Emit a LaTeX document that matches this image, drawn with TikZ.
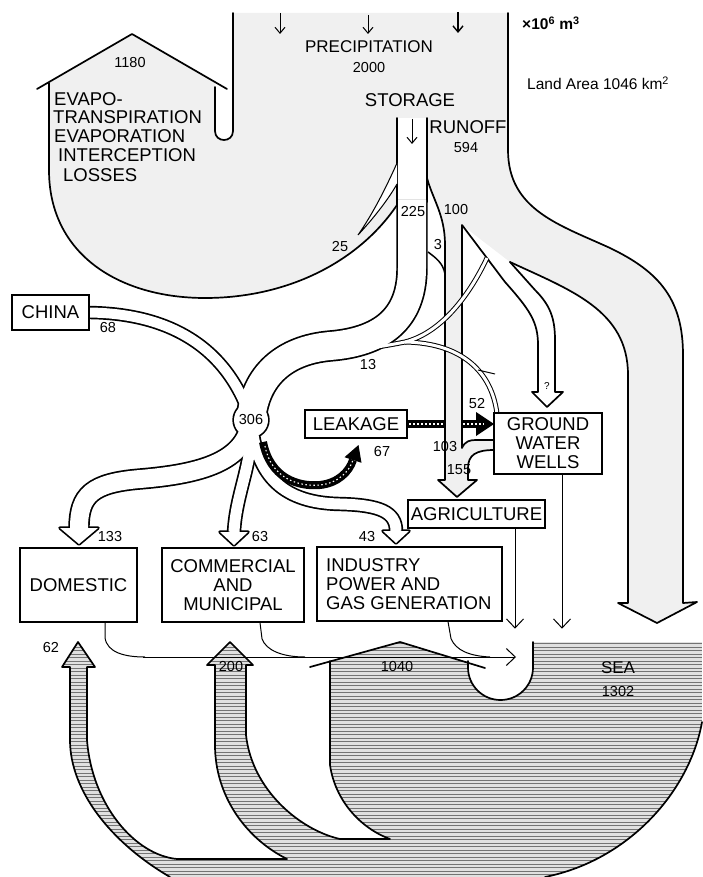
\documentclass[tikz,border=0pt]{standalone}
\usepackage{fontspec}
\setmainfont{Liberation Sans}
\usetikzlibrary{arrows.meta}
\newcommand\seaClip{\clip (330,661) -- (400,642) -- (468,662) -- (468,667.5) .. controls (468,685.5) and (482.5,700) .. (500.5,700) .. controls (518.5,700) and (533,685.5) .. (533,667.5) -- (533,642) -- (702,642) -- (702,722) .. controls (690,790) and (630,860) .. (545,877) -- (170,877) .. controls (110,842) and (70,790) .. (70,740) -- (70,667) -- (62,667) -- (78,642) -- (95,667) -- (87,667) -- (87,740) .. controls (92,805) and (135,855) .. (177,859) -- (287,859) .. controls (245,838) and (215,795) .. (215,745) -- (215,665) -- (207,665) -- (230,642) -- (253,665) -- (246,665) -- (246,735) .. controls (252,790) and (300,830) .. (340,839) -- (390,839) .. controls (360,828) and (335,800) .. (330,765) -- cycle;}
\newcommand\bChina[1]{\draw[#1] (84,312.5) .. controls (170,312) and (228,348) .. (251,420);}
\newcommand\bStor[1]{\draw[#1] (412,200) -- (412,268) .. controls (412,320) and (380,342) .. (330,346) .. controls (285,350) and (255,375) .. (251,420);}
\newcommand\bDom[1]{\draw[#1] (251,420) .. controls (246,462) and (200,474) .. (140,479) .. controls (92,483) and (79,495) .. (79,528);}
\newcommand\bCom[1]{\draw[#1] (251,420) .. controls (254,462) and (236,492) .. (234,532);}
\newcommand\bInd[1]{\draw[#1] (251,420) .. controls (256,478) and (285,503) .. (340,504) .. controls (380,505) and (396,512) .. (396,531);}
\newcommand\bX[1]{\draw[#1] (487,258) .. controls (468,298) and (440,333) .. (405,342) .. controls (385,346) and (365,349) .. (345,352);}
\newcommand\bThirteen[1]{\draw[#1] (497,414) .. controls (492,372) and (462,343) .. (405,342);}
\newcommand\bHeads[1]{\path[#1] (60,528) -- (79,544) -- (98,528) -- cycle; \path[#1] (220,532) -- (234,545) -- (248,532) -- cycle; \path[#1] (383,531) -- (396,543) -- (409,531) -- cycle;}
\begin{document}
\begin{tikzpicture}[x=1pt,y=-1pt,
  wall/.style={line width=1.7pt, line join=round, line cap=round},
  fine/.style={line width=1pt},
  boxn/.style={draw, line width=1.3pt, fill=white, inner sep=0pt, align=center, font=\fontsize{18.5}{19}\selectfont},
  lab/.style={inner sep=0pt, font=\fontsize{18.5}{19}\selectfont},
  num/.style={inner sep=0pt, font=\fontsize{14.5}{16}\selectfont},
  vtip/.style={-{Straight Barb[length=9pt,width=17pt]}},
  smalltip/.style={-{Straight Barb[length=6pt,width=10pt]}},
  darkband/.style={line width=8pt, black},
  speck/.style={white, line width=1.1pt, dash pattern=on 1.5pt off 2.5pt},
]
\useasboundingbox (0,0) rectangle (702,877);

% land / runoff region (stippled)
\fill[black!6] (233,13) -- (233,131) .. controls (233,143) and (215,143) .. (215,131) -- (215,82) -- (132,34) -- (49,82) -- (49,170) .. controls (49,255) and (120,298) .. (205,298) .. controls (290,298) and (360,260) .. (397,205) -- (397,118) -- (427,118) -- (427,178) .. controls (433,200) and (445,215) .. (445,245) -- (445,480) -- (438,480) -- (457,497) -- (477,480) -- (468,480) -- (468,468) .. controls (468,455) and (476,450) .. (494,450) -- (494,440) -- (476,440) .. controls (470,440) and (465,441) .. (462,448) -- (462,225) -- (510,262) .. controls (570,290) and (628,310) .. (628,375) -- (628,603) -- (618,603) -- (657,623) -- (697,602) -- (683,603) -- (683,355) .. controls (683,300) and (660,272) .. (610,248) .. controls (560,225) and (508,210) .. (508,150) -- (508,13) -- cycle;

% sea texture
\begin{scope}
\seaClip
\fill[black!12] (0,630) rectangle (702,877);
\foreach \yy in {643.5,647,...,877} \draw[black!55, line width=1pt] (0,\yy) -- (702,\yy);
\end{scope}

% land walls
\draw[wall] (233,13) -- (233,131) .. controls (233,143) and (215,143) .. (215,131) -- (215,87);
\draw[wall] (37,89) -- (132,34) -- (227,89);
\draw[wall] (49,83) -- (49,170) .. controls (49,255) and (120,298) .. (205,298) .. controls (290,298) and (360,260) .. (397,205);
\draw[wall] (397,118) -- (397,206);
\draw[wall] (427,118) -- (427,202);
\draw[wall] (427,178) .. controls (433,200) and (445,215) .. (445,245) -- (445,480) -- (438,480) -- (457,497) -- (477,480) -- (468,480) -- (468,468) .. controls (468,455) and (476,450) .. (494,450);
\draw[wall] (494,440) -- (476,440) .. controls (470,440) and (465,441) .. (462,448) -- (462,225) -- (505,282) .. controls (530,310) and (538,322) .. (538,345) -- (538,392) -- (532,392) -- (547,407) -- (563,392) -- (555,392) -- (555,340) .. controls (555,318) and (550,305) .. (535,290) -- (510,262);
\draw[wall] (510,262) .. controls (570,290) and (628,310) .. (628,375) -- (628,603) -- (618,603) -- (657,623) -- (697,602) -- (683,603) -- (683,355) .. controls (683,300) and (660,272) .. (610,248) .. controls (560,225) and (508,210) .. (508,150) -- (508,13);

% 25 wedge and 3 stream
\draw[fine, fill=white] (397,163) .. controls (385,190) and (372,215) .. (358,235) .. controls (372,220) and (388,200) .. (397,184);
\draw[line width=1.5pt] (428,252) .. controls (436,258) and (443,263) .. (445,274);

% bands: outlines
\bChina{line width=13.4pt}
\bStor{line width=31.4pt}
\bDom{line width=21.4pt}
\bCom{line width=14.4pt}
\bInd{line width=14.4pt}
\bX{line width=5pt}
\bThirteen{line width=5pt}
\fill (251,420) circle (18.7pt);
\bHeads{fill=black, draw=black, line width=3.4pt, line join=round}
% bands: interiors
\bChina{line width=10pt, white}
\bStor{line width=28pt, white}
\bDom{line width=18pt, white}
\bCom{line width=11pt, white}
\bInd{line width=11pt, white}
\bX{line width=3pt, white}
\bThirteen{line width=3pt, white}
\fill[white] (251,420) circle (17pt);
\bHeads{fill=white}
\draw[fine] (478,370) -- (495,374);

% leakage arrows
\draw[darkband] (407,424) -- (445,424);
\draw[darkband] (462,424) -- (480,424);
\fill (476,412) -- (494,424) -- (476,436) -- cycle;
\draw[speck] (409,424) -- (444,424);
\draw[speck] (463,424) -- (484,424);
\draw[darkband] (263,442) .. controls (270,478) and (298,487) .. (320,485) .. controls (338,483) and (349,472) .. (353,460);
\fill (344.5,457.2) -- (358.5,445) -- (361.5,462.8) -- cycle;
\draw[speck] (265,446) .. controls (271,478) and (298,487) .. (320,485) .. controls (338,483) and (349,472) .. (353,460);

% sea outlines
\draw[wall] (170,877) .. controls (110,842) and (70,790) .. (70,740) -- (70,667) -- (62,667) -- (78,642) -- (95,667) -- (87,667) -- (87,740) .. controls (92,805) and (135,855) .. (177,859) -- (287,859) .. controls (245,838) and (215,795) .. (215,745) -- (215,665) -- (207,665) -- (230,642) -- (253,665) -- (246,665) -- (246,735) .. controls (252,790) and (300,830) .. (340,839) -- (390,839) .. controls (360,828) and (335,800) .. (330,765) -- (330,661);
\draw[wall] (310,667) -- (400,642) -- (485,668);
\draw[wall] (468,661) -- (468,667.5) .. controls (468,685.5) and (482.5,700) .. (500.5,700) .. controls (518.5,700) and (533,685.5) .. (533,667.5) -- (533,642);
\draw[wall] (702,722) .. controls (690,790) and (630,860) .. (545,877);

% boxes
\node[boxn, minimum width=77pt, minimum height=35pt] (china) at (50.5,312.5) {CHINA};
\node[boxn, minimum width=102pt, minimum height=28pt] (leak) at (356,424) {LEAKAGE};
\node[boxn, minimum width=108pt, minimum height=61pt] (gw) at (548,443.5) {GROUND\\WATER\\WELLS};
\node[boxn, minimum width=137pt, minimum height=28pt] (agri) at (476.5,514) {AGRICULTURE};
\node[boxn, minimum width=117pt, minimum height=74pt] (dom) at (78.5,585) {DOMESTIC};
\node[boxn, minimum width=142pt, minimum height=74pt] (com) at (233,585) {COMMERCIAL\\AND\\MUNICIPAL};
\node[boxn, minimum width=185pt, minimum height=74pt] (ind) at (409.5,584) {};
\node[lab, anchor=west, align=left] (indt) at (326,584) {INDUSTRY\\POWER AND\\GAS GENERATION};

% outflow lines to sea
\coordinate (seaIn) at (516,657);
\draw[fine] ([xshift=26.5pt]dom.south) -- ++(0,15) .. controls +(2,15) and (125,657) .. (145,657);
\draw[fine] ([xshift=27pt]com.south) -- ++(2,16) .. controls +(4,12) and (283,657) .. (305,657);
\draw[fine] ([xshift=38.5pt]ind.south) -- ++(3,17) .. controls +(5,12) and (470,656) .. (490,657);
\draw[fine, vtip] (143,657) -- (seaIn);
\draw[fine, vtip] ([xshift=38.5pt]agri.south) -- ++(0,100);
\draw[fine, vtip] ([xshift=14pt]gw.south) -- ++(0,154);

% precipitation arrows
\draw[fine, smalltip] (280,13) -- (280,34);
\draw[fine, smalltip] (368,15) -- (368,34);
\draw[line width=1.4pt, smalltip] (458,12) -- (458,33);
\draw[fine, smalltip] (412,119) -- (412,144);

% labels
\node[lab, font=\fontsize{17}{18}\selectfont] (precip) at (369,47) {PRECIPITATION};
\node[num] (n2000) at (369,68) {2000};
\node[anchor=west, inner sep=0pt, font=\bfseries\fontsize{15.5}{16}\selectfont] (unit) at (522,23) {×10\textsuperscript{6} m\textsuperscript{3}};
\node[anchor=west, inner sep=0pt, font=\fontsize{15.5}{16}\selectfont] (land) at (527,83) {Land Area 1046 km\textsuperscript{2}};
\node[num] (n1180) at (130,63) {1180};
\node[lab, anchor=west] (ev1) at (54,99) {EVAPO-};
\node[lab, anchor=west] (ev2) at (53,117) {TRANSPIRATION};
\node[lab, anchor=west] (ev3) at (54,136) {EVAPORATION};
\node[lab, anchor=west] (ev4) at (58,155) {INTERCEPTION};
\node[lab, anchor=west] (ev5) at (63,175) {LOSSES};
\node[lab] (stor) at (410,100) {STORAGE};
\node[lab] (runoff) at (468,127) {RUNOFF};
\node[num] (n594) at (466,148) {594};
\node[num] (n225) at (413,212) {225};
\node[num] (n100) at (456,210) {100};
\node[num] (n25) at (340,247) {25};
\node[num] (n3) at (438,245) {3};
\node[num] (n68) at (108,328) {68};
\node[num] (n13) at (368,365) {13};
\node[num] (n306) at (251,420) {306};
\node[num] (n52) at (477,404) {52};
\node[num] (n67) at (382,452) {67};
\node[num] (n103) at (445,447) {103};
\node[num] (n155) at (459,470) {155};
\node[inner sep=0pt, font=\fontsize{10}{11}\selectfont] (nq) at (547,386) {?};
\node[num] (n133) at (110,537) {133};
\node[num] (n63) at (260,537) {63};
\node[num] (n43) at (367,537) {43};
\node[num] (n62) at (51,648) {62};
\node[num] (n200) at (231,667) {200};
\node[num] (n1040) at (397,667) {1040};
\node[lab, font=\fontsize{17}{18}\selectfont] (sea) at (618,668) {SEA};
\node[num] (n1302) at (618,692) {1302};
\end{tikzpicture}
\end{document}
